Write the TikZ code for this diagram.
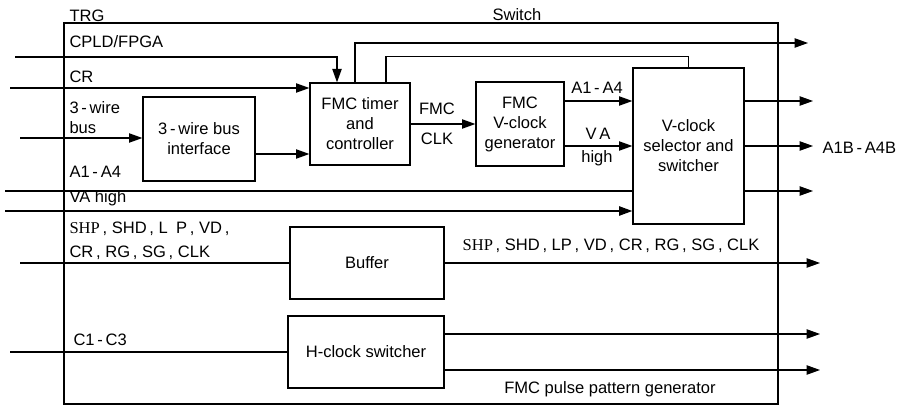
\documentclass[tikz,border=0pt]{standalone}
\usepackage{fontspec}
\setmainfont{Liberation Sans}
\newfontfamily\timesfont{Liberation Serif}
\usetikzlibrary{arrows.meta,calc}

\tikzset{every picture/.style={line width=0.8pt}}
\tikzset{
  blk/.style={draw, line width=1pt, align=center, inner sep=0pt},
  lbl/.style={anchor=base west, inner sep=0pt},
  mid/.style={anchor=base, inner sep=0pt},
  arr/.style={-{Triangle[length=10pt,width=7pt]}},
  bus/.style={line width=1.3pt}
}

\begin{document}
\begin{tikzpicture}[x=0.75pt,y=0.75pt,yscale=-1,xscale=1,font=\fontsize{12.4}{15}\selectfont]
\useasboundingbox (0,0) rectangle (906,406);

% Outer block
\node (pg) [draw, line width=1.2pt, minimum width=535.5pt, minimum height=285.75pt, inner sep=0pt] at (421,213.5) {};

% Blocks
\node (ifc) [blk, minimum width=84pt, minimum height=63pt] at (199,139) {3\,-\,wire bus\\interface};
\node (tmr) [blk, minimum width=75pt, minimum height=61.5pt] at (360,124) {FMC timer\\and\\controller};
\node (vgen) [blk, minimum width=66pt, minimum height=63pt] at (520,124) {FMC\\V-clock\\generator};
\node (vsel) [blk, minimum width=83.25pt, minimum height=117pt] at (688.5,146) {V-clock\\selector and\\switcher};
\node (buf) [blk, minimum width=115.5pt, minimum height=54pt] at (367,263) {Buffer};
\node (hsw) [blk, minimum width=117pt, minimum height=54pt] at (366,352) {H-clock switcher};

% Free ends
\coordinate (cin1) at (15,57);
\coordinate (cin2) at (10,88);
\coordinate (cin3) at (20,138);
\coordinate (cin4) at (5,191);
\coordinate (cin5) at (5,211);
\coordinate (cin6) at (20,263);
\coordinate (cin7) at (10,352);
\coordinate (cout1) at (808,43);
\coordinate (cout2) at (813,101);
\coordinate (cout3) at (813,146);
\coordinate (cout4) at (813,191);
\coordinate (cout5) at (820,263);
\coordinate (cout6) at (820,334);
\coordinate (cout7) at (820,370);

% Inputs
\draw [arr] (cin1) -| ($(tmr.north)+(-23,0)$);
\draw [arr] (cin2) -- (cin2 -| tmr.west);
\draw [arr] (cin3) -- (cin3 -| ifc.west);
\draw [bus] (cin4) -- (cin4 -| vsel.west);
\draw [bus,arr] (cin5) -- (cin5 -| vsel.west);
\draw (cin6) -- (buf.west);
\draw (cin7) -- (hsw.west);

% Inner connections
\draw [arr] ($(ifc.east)+(0,15)$) -- ($(tmr.west)+(0,30)$);
\draw [arr] (tmr.east) -- (vgen.west);
\draw [arr] ($(vgen.east)+(0,-23)$) -- ($(vsel.west)+(0,-45)$);
\draw [arr] ($(vgen.east)+(0,22)$) -- (vsel.west);
\draw ($(tmr.north)+(26,0)$) |- ($(vsel.north)+(0,-11)$) -- (vsel.north);

% Outputs
\draw [arr] ($(tmr.north)+(-5,0)$) |- (cout1);
\draw [arr] (cout2 -| vsel.east) -- (cout2);
\draw [arr] (cout3 -| vsel.east) -- (cout3);
\draw [arr] (cout4 -| vsel.east) -- (cout4);
\draw [arr] (buf.east) -- (cout5);
\draw [arr] (cout6 -| hsw.east) -- (cout6);
\draw [arr] (cout7 -| hsw.east) -- (cout7);

% Text Node
\node (ttrg) [lbl] at (69,22) {TRG};
\node (tsw) [lbl] at (492,21) {Switch};
\node (tcpld) [lbl] at (69,48) {CPLD/FPGA};
\node (tcr) [lbl] at (69,83) {CR};
\node (t3w) [lbl, align=left, anchor=north west] at (69,101) {3\,-\,wire\\bus};
\node (ta14) [lbl] at (69,177) {A1\,-\,A4};
\node (tvah) [lbl] at (69,202) {VA high};
\node (tshp) [lbl] at (69,233) {{\timesfont SHP}\,, SHD\,, L\enspace P\,, VD\,,};
\node (tcr2) [lbl] at (69,257) {CR\,, RG\,, SG\,, CLK};
\node (tc13) [lbl] at (73,345) {C1\,-\,C3};
\node (tfmc) [mid] at (437,115) {FMC};
\node (tclk) [mid] at (437,145) {CLK};
\node (tva14) [mid] at (597,94) {A1\,-\,A4};
\node (tva) [mid] at (598,140) {V\,A};
\node (thigh) [mid] at (597,162) {high};
\node (ta1b) [lbl] at (822,154) {A1B\,-\,A4B};
\node (tbout) [mid] at (611,250) {{\timesfont SHP}\,, SHD\,, LP\,, VD\,, CR\,, RG\,, SG\,, CLK};
\node (tppg) [mid] at (610,393) {FMC pulse pattern generator};
\end{tikzpicture}
\end{document}
